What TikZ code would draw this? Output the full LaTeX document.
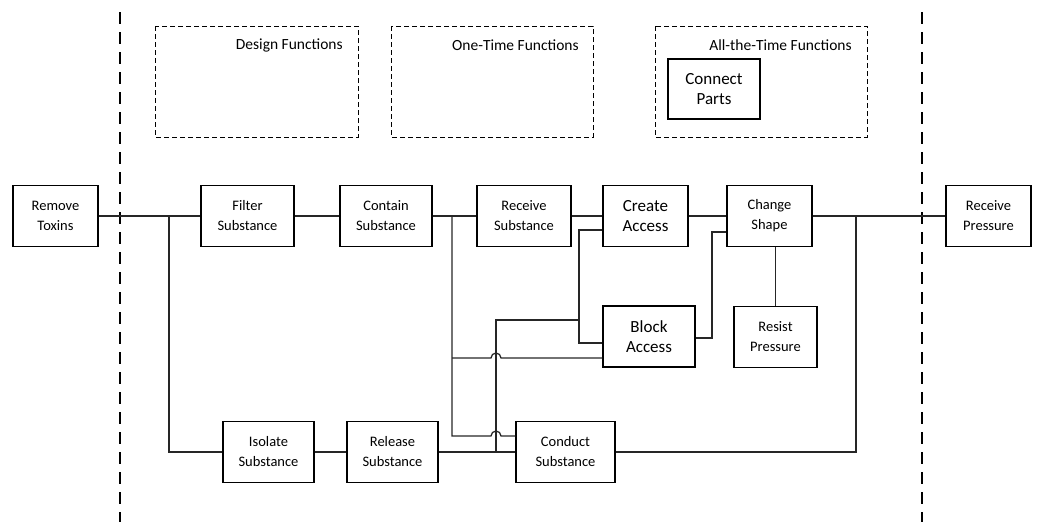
\documentclass[tikz,border=0pt]{standalone}
\usepackage{fontspec}
\setmainfont{Carlito}
\usetikzlibrary{calc}

\begin{document}
\begin{tikzpicture}[x=1pt, y=-1pt, semithick]
    \tikzstyle{func}=[rectangle, draw, line width=1.2pt, align=center, minimum width=92pt, minimum height=61pt, inner sep=2pt, font=\fontsize{14.5}{20}\selectfont]
    \tikzstyle{funcl}=[func, font=\fontsize{17}{20}\selectfont]
    \tikzstyle{group}=[draw, line width=1pt, dash pattern=on 5pt off 3pt]
    \tikzstyle{grouplab}=[anchor=east, inner sep=0pt, font=\fontsize{15.5}{18}\selectfont]
    \tikzstyle{border}=[line width=2.8pt, dash pattern=on 12pt off 8pt]
    \tikzstyle{wire}=[line width=1.25pt, draw=black!85]

    \useasboundingbox (0,0) rectangle (1037,522);

    % system boundary
    \draw[border] (120,12) -- (120,522);
    \draw[border] (922,12) -- (922,522);

    % function groups
    \draw[group] (155,26) rectangle (358,137);
    \draw[group] (391,26) rectangle (593,137);
    \draw[group] (655,26) rectangle (867,137);
    \node[grouplab] (dflab) at (343,45) {Design Functions};
    \node[grouplab] (oflab) at (579,45) {One-Time Functions};
    \node[grouplab] (aflab) at (852,45) {All-the-Time Functions};
    \node[funcl, minimum height=60pt] (cp) at (714,89) {Connect\\Parts};

    % main row
    \node[func, minimum width=85pt] (rt) at (55.5,216) {Remove\\Toxins};
    \node[func, minimum width=93pt] (fs) at (247.5,216) {Filter\\Substance};
    \node[func] (cs) at (386,216) {Contain\\Substance};
    \node[func, minimum width=94pt] (rs) at (524,216) {Receive\\Substance};
    \node[funcl, minimum width=85pt] (ca) at (645.5,216) {Create\\Access};
    \node[func, minimum width=85pt] (chs) at (769.5,216) {Change\\Shape};
    \node[func, minimum width=85pt] (rp) at (988.5,216) {Receive\\Pressure};

    % middle row
    \node[funcl] (ba) at (649,336.5) {Block\\Access};
    \node[func, minimum width=83pt] (rsp) at (775.5,337) {Resist\\Pressure};

    % bottom row
    \node[func, minimum width=91pt] (is) at (268.5,452) {Isolate\\Substance};
    \node[func, minimum width=91pt] (rel) at (392.5,452) {Release\\Substance};
    \node[func, minimum width=99pt] (cd) at (565.5,452) {Conduct\\Substance};

    % junctions
    \coordinate (j1) at (169,216);
    \coordinate (j2) at (452,216);
    \coordinate (j3) at (856,216);
    \coordinate (h1) at (452,436);
    \coordinate (h2) at (452,358);
    \coordinate (k1) at (496,452);
    \coordinate (k2) at (579,320);

    \draw[wire] (rt) -- (fs);
    \draw[wire] (fs) -- (cs);
    \draw[wire] (cs) -- (rs);
    \draw[wire] (rs) -- (ca);
    \draw[wire] (ca) -- (chs);
    \draw[wire] (chs) -- (rp);
    \draw[wire] (j1) |- (is.west);
    \draw[wire] (is) -- (rel);
    \draw[wire] (rel) -- (cd);
    \draw[wire] (j3) |- (cd.east);
    \draw[wire] (rsp.north) -- (rsp.north |- chs.south);

    \draw[wire] (j2) -- (h1) -- ++(39,0) arc[start angle=180, end angle=0, radius=5pt] -- ([yshift=16pt]cd.west);
    \draw[wire] (h2) -- ++(39,0) arc[start angle=180, end angle=0, radius=5pt] -- ([yshift=-21.5pt]ba.west);
    \draw[wire] (k1) |- (k2);
    \draw[wire] ([yshift=-14pt]ca.west) -| (k2) |- ([yshift=-6.5pt]ba.west);
    \draw[wire] ([yshift=-1.5pt]ba.east) -| (712,232) -- ([yshift=-16pt]chs.west);

\end{tikzpicture}
\end{document}
